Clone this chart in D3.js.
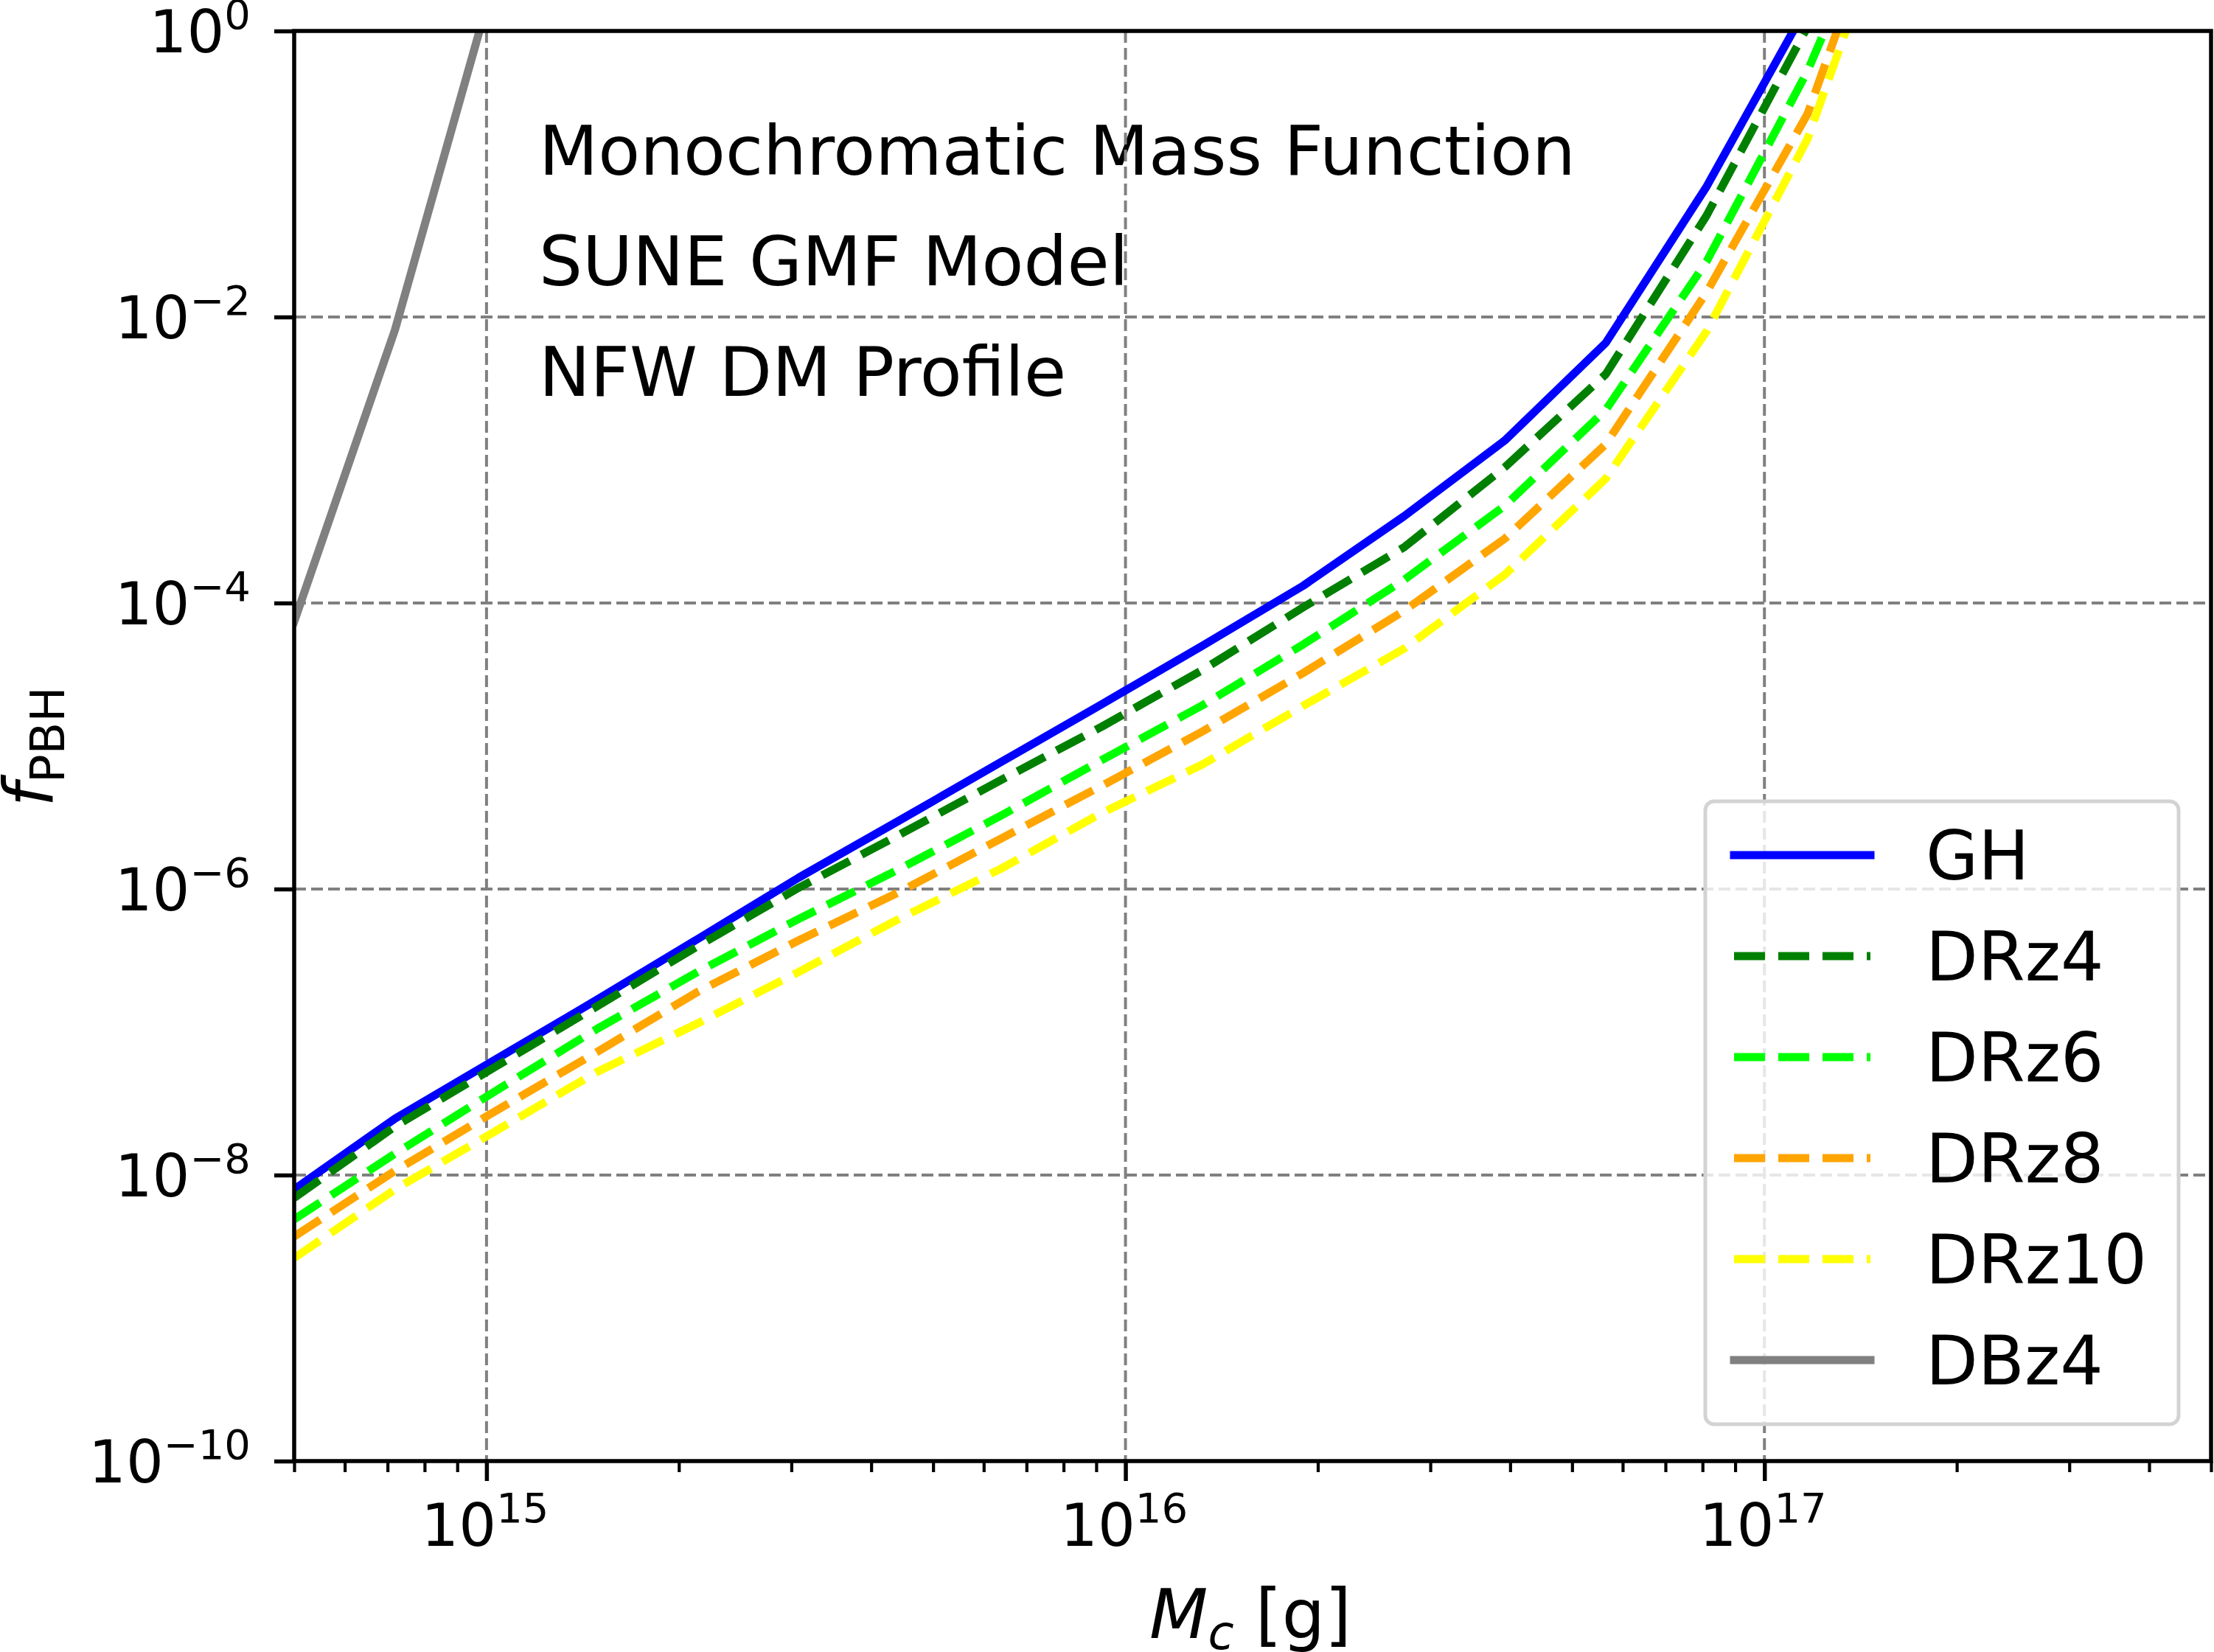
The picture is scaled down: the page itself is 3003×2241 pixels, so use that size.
<!DOCTYPE html>
<html>
<head>
<meta charset="utf-8">
<script src="https://cdn.jsdelivr.net/npm/d3@7"></script>
<style>
  html, body { margin: 0; padding: 0; background: #fff; }
  svg { display: block; font-family: "DejaVu Sans", sans-serif; }
</style>
</head>
<body>
<svg id="chart" width="3003" height="2241"></svg>
<script>
// mass grid [g]
const masses = [5.00e14, 7.19e14, 1.035e15, 1.488e15, 2.14e15, 3.079e15, 4.429e15, 6.37e15,
  9.165e15, 1.318e16, 1.897e16, 2.728e16, 3.924e16, 5.645e16, 8.12e16, 1.168e17, 1.68e17];

// f_PBH upper limits
const fGH = [7.94e-9, 2.48e-8, 6.46e-8, 1.68e-7, 4.47e-7, 1.20e-6, 3.02e-6, 7.67e-6, 1.95e-5,
  5.01e-5, 1.32e-4, 4.04e-4, 1.37e-3, 6.59e-3, 8.18e-2, 1.51, 39.8];
const fDRz4 = [6.92e-9, 2.19e-8, 5.75e-8, 1.51e-7, 3.98e-7, 1.02e-6, 2.40e-6, 5.75e-6, 1.36e-5,
  3.39e-5, 9.33e-5, 2.45e-4, 8.91e-4, 3.98e-3, 5.13e-2, 1.07, 28.2];
const fDRz6 = [4.90e-9, 1.41e-8, 3.89e-8, 1.05e-7, 2.63e-7, 6.17e-7, 1.38e-6, 3.24e-6, 7.94e-6,
  1.92e-5, 5.13e-5, 1.45e-4, 4.79e-4, 2.24e-3, 2.45e-2, 0.525, 23.4];
const fDRz8 = [3.72e-9, 1.07e-8, 2.82e-8, 7.24e-8, 1.91e-7, 4.37e-7, 9.55e-7, 2.24e-6, 5.25e-6,
  1.26e-5, 3.24e-5, 8.81e-5, 2.82e-4, 1.29e-3, 1.49e-2, 0.263, 25.1];
const fDRz10 = [2.63e-9, 7.94e-9, 2.04e-8, 5.25e-8, 1.15e-7, 2.63e-7, 6.21e-7, 1.38e-6, 3.39e-6,
  7.41e-6, 1.91e-5, 4.79e-5, 1.58e-4, 7.41e-4, 7.94e-3, 0.176, 17.0];
const fDBz4 = [7.41e-5, 8.13e-3, 2.57];

const seriesNames = ["GH", "DRz4", "DRz6", "DRz8", "DRz10", "DBz4"];
const seriesColors = ["#0000ff", "#008000", "#00ff00", "#ffa500", "#ffff00", "#808080"];
const seriesDashed = [false, true, true, true, true, false];
const seriesValues = [fGH, fDRz4, fDRz6, fDRz8, fDRz10, fDBz4];

const xTicks = [1e15, 1e16, 1e17];
const yTicks = [1e-10, 1e-8, 1e-6, 1e-4, 1e-2, 1];
const notes = ["Monochromatic Mass Function", "SUNE GMF Model", "NFW DM Profile"];

const svg = d3.select("#chart");
const plotLeft = 399, plotTop = 42, plotW = 2600, plotH = 1940;
const plotBottom = plotTop + plotH;

const x = d3.scaleLog().domain([5e14, 5e17]).range([plotLeft, plotLeft + plotW]);
const y = d3.scaleLog().domain([1e-10, 1]).range([plotBottom, plotTop]);

svg.append("defs").append("clipPath").attr("id", "plotclip")
  .append("rect").attr("x", plotLeft).attr("y", plotTop).attr("width", plotW).attr("height", plotH);

// annotation text (grid is drawn over it, as in the original)
svg.append("g").selectAll("text").data(notes).join("text")
  .attr("x", 731)
  .attr("y", (d, i) => 237 + i * 150)
  .attr("font-size", 93)
  .text(d => d);

// grid
const grid = svg.append("g").attr("stroke", "#808080").attr("stroke-width", 4)
  .attr("stroke-dasharray", "16,7");
grid.selectAll("line.gx").data(xTicks).join("line").attr("class", "gx")
  .attr("x1", d => x(d)).attr("x2", d => x(d)).attr("y1", plotTop).attr("y2", plotBottom);
grid.selectAll("line.gy").data(yTicks.filter(d => d > 1e-10 && d < 1)).join("line").attr("class", "gy")
  .attr("y1", d => y(d)).attr("y2", d => y(d)).attr("x1", plotLeft).attr("x2", plotLeft + plotW);

// curves
const line = d3.line().x(d => x(d[0])).y(d => y(d[1]));
const curves = svg.append("g").attr("clip-path", "url(#plotclip)");
seriesValues.forEach((vals, k) => {
  curves.append("path")
    .datum(vals.map((v, i) => [masses[i], v]))
    .attr("d", line)
    .attr("fill", "none")
    .attr("stroke", seriesColors[k])
    .attr("stroke-width", 11)
    .attr("stroke-linejoin", "round")
    .attr("stroke-linecap", seriesDashed[k] ? "butt" : "square")
    .attr("stroke-dasharray", seriesDashed[k] ? "42,18" : null);
});

// frame
svg.append("rect").attr("x", plotLeft).attr("y", plotTop).attr("width", plotW).attr("height", plotH)
  .attr("fill", "none").attr("stroke", "#000").attr("stroke-width", 5.5);

// x ticks
const xMinor = [];
for (let e = 14; e <= 17; e++) for (let m = 2; m <= 9; m++) {
  const v = m * Math.pow(10, e);
  if (v >= 5e14 && v <= 5e17) xMinor.push(v);
}
const xMinorAxis = svg.append("g").attr("transform", `translate(0,${plotBottom})`)
  .call(d3.axisBottom(x).tickValues(xMinor).tickSize(15).tickFormat(""));
const xMajorAxis = svg.append("g").attr("transform", `translate(0,${plotBottom})`)
  .call(d3.axisBottom(x).tickValues(xTicks).tickSize(27).tickFormat(""));
const yMajorAxis = svg.append("g").attr("transform", `translate(${plotLeft},0)`)
  .call(d3.axisLeft(y).tickValues(yTicks).tickSize(27).tickFormat(""));
[xMinorAxis, xMajorAxis, yMajorAxis].forEach(g => g.select(".domain").remove());
xMinorAxis.selectAll(".tick line").attr("stroke", "#000").attr("stroke-width", 4.2);
xMajorAxis.selectAll(".tick line").attr("stroke", "#000").attr("stroke-width", 5.5);
yMajorAxis.selectAll(".tick line").attr("stroke", "#000").attr("stroke-width", 5.5);

const expOf = v => {
  const e = Math.round(Math.log10(v));
  return e < 0 ? "\u2212" + (-e) : String(e);
};

// x tick labels
svg.append("g").selectAll("text").data(xTicks).join("text")
  .attr("x", d => x(d) - 2)
  .attr("y", plotBottom + 115)
  .attr("text-anchor", "middle")
  .each(function (d) {
    const t = d3.select(this);
    t.append("tspan").attr("font-size", 80).text("10");
    t.append("tspan").attr("font-size", 56).attr("dy", -32).text(expOf(d));
  });

// y tick labels
svg.append("g").selectAll("text").data(yTicks).join("text")
  .attr("x", 340)
  .attr("y", d => y(d) + 29)
  .attr("text-anchor", "end")
  .each(function (d) {
    const t = d3.select(this);
    t.append("tspan").attr("font-size", 80).text("10");
    t.append("tspan").attr("font-size", 56).attr("dy", -32).text(expOf(d));
  });

// axis labels
const xl = svg.append("text").attr("x", 1696).attr("y", 2222).attr("text-anchor", "middle");
xl.append("tspan").attr("font-size", 92).attr("font-style", "italic").text("M");
xl.append("tspan").attr("font-size", 64).attr("font-style", "italic").attr("dy", 15).text("c");
xl.append("tspan").attr("font-size", 92).attr("dy", -15).text(" [g]");

const yl = svg.append("text").attr("transform", "translate(72,1013) rotate(-90)")
  .attr("text-anchor", "middle");
yl.append("tspan").attr("font-size", 92).attr("font-style", "italic").text("f");
yl.append("tspan").attr("font-size", 64).attr("dy", 15).text("PBH");

// legend
const lg = svg.append("g");
lg.append("rect").attr("x", 2313).attr("y", 1087).attr("width", 642).attr("height", 845)
  .attr("rx", 12).attr("fill", "#fff").attr("fill-opacity", 0.8)
  .attr("stroke", "#d3d3d3").attr("stroke-width", 5);
const items = lg.selectAll("g.item").data(seriesNames).join("g").attr("class", "item")
  .attr("transform", (d, i) => `translate(0,${1160 + i * 137})`);
items.append("line")
  .attr("x1", 2352).attr("x2", 2537).attr("y1", 0).attr("y2", 0)
  .attr("stroke", (d, i) => seriesColors[i])
  .attr("stroke-width", 11)
  .attr("stroke-linecap", (d, i) => seriesDashed[i] ? "butt" : "square")
  .attr("stroke-dasharray", (d, i) => seriesDashed[i] ? "42,18" : null);
items.append("text").attr("x", 2612).attr("y", 33).attr("font-size", 92).text(d => d);
</script>
</body>
</html>
